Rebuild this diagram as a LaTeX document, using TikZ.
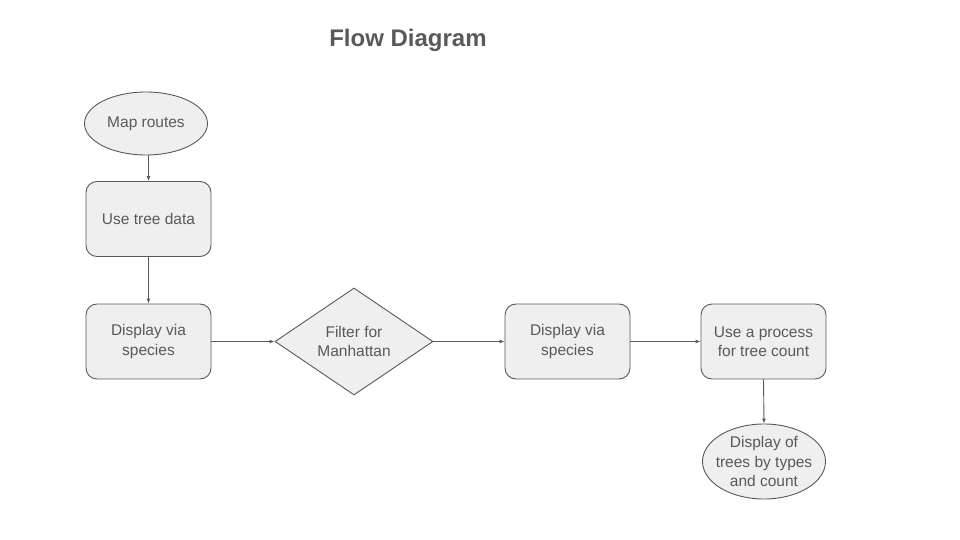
\documentclass[tikz,border=0pt]{standalone}
\usepackage{fontspec}
\setmainfont{Liberation Sans}
\usetikzlibrary{shapes.geometric,arrows.meta}
\definecolor{ln}{HTML}{595959}
\definecolor{fl}{HTML}{EFEFEF}
\definecolor{tx}{HTML}{595959}
\tikzset{
  base/.style={draw=ln, fill=fl, line width=0.9pt, text=tx, align=center, inner sep=0pt,
    font=\fontsize{15.5}{19.5}\selectfont},
  procbox/.style={base, rounded corners=11pt, minimum width=125pt, minimum height=75pt},
  term/.style={base, ellipse, inner xsep=-12pt, inner ysep=-6pt, minimum width=123pt, minimum height=63pt},
  deci/.style={base, diamond, minimum width=158pt, minimum height=107pt, aspect=1.48},
  conn/.style={draw=ln, line width=0.9pt, -{Latex[length=5pt,width=4pt]}}
}
\begin{document}
\begin{tikzpicture}[x=1pt,y=-1pt]
\useasboundingbox (0,0) rectangle (960,540);
\node[font=\fontsize{24}{28}\bfseries, text=tx] (title) at (408,40) {Flow Diagram};
\node[term] (map) at (146,123.5) {Map routes};
\node[procbox] (use) at (148.5,219) {Use tree data};
\node[procbox] (disp1) at (148.5,341.5) {Display via\\species};
\node[deci] (filt) at (354,341.5) {Filter for\\Manhattan};
\node[procbox] (disp2) at (567.5,341.5) {Display via\\species};
\node[procbox] (proc) at (763.5,341.5) {Use a process\\for tree count};
\node[term, minimum height=75pt] (out) at (764,461.5) {Display of\\trees by types\\and count};
\draw[conn] (map.south -| use.north) -- (use.north);
\draw[conn] (use.south) -- (disp1.north);
\draw[conn] (disp1.east) -- (filt.west);
\draw[conn] (filt.east) -- (disp2.west);
\draw[conn] (disp2.east) -- (proc.west);
\draw[conn] (proc.south) -- (out.north);
\end{tikzpicture}
\end{document}
